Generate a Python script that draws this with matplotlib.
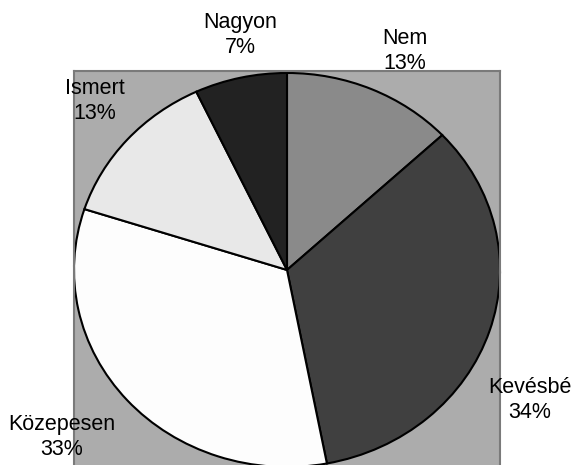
import matplotlib.pyplot as plt

categories = ['Nem', 'Kevésbé', 'Közepesen', 'Ismert', 'Nagyon']
shares = [13, 34, 33, 13, 7]
colors = ['#8a8a8a', '#404040', '#fdfdfd', '#e8e8e8', '#222222']

# label block centres in figure pixels (x, y from top)
label_pos = [(405, 51), (530, 400), (62, 437), (95, 101), (240, 35)]

W, H = 575, 465
fig = plt.figure(figsize=(W / 100, H / 100), dpi=100)
ax = fig.add_axes([74 / W, 0, 426 / W, 394 / H])

ax.pie(shares, colors=colors, startangle=90, counterclock=False,
       wedgeprops=dict(edgecolor='black', linewidth=1.5))
ax.set_aspect('auto')
ax.set_xlim(-1.0, 1.0)
ax.set_ylim(-0.99, 1.01)
ax.set_frame_on(True)
ax.patch.set_visible(True)
ax.patch.set_facecolor('#acacac')
ax.set_xticks([])
ax.set_yticks([])
for s in ax.spines.values():
    s.set_visible(True)
    s.set_color('#7a7a7a')
    s.set_linewidth(1.5)
ax.spines['bottom'].set_visible(False)

for name, val, (px, py) in zip(categories, shares, label_pos):
    fig.text(px / W, 1 - py / H, f'{name}\n{val}%', ha='center', va='center',
             fontsize=15.5, family='Liberation Sans', linespacing=1.3)

fig.savefig('out.png', dpi=100)
